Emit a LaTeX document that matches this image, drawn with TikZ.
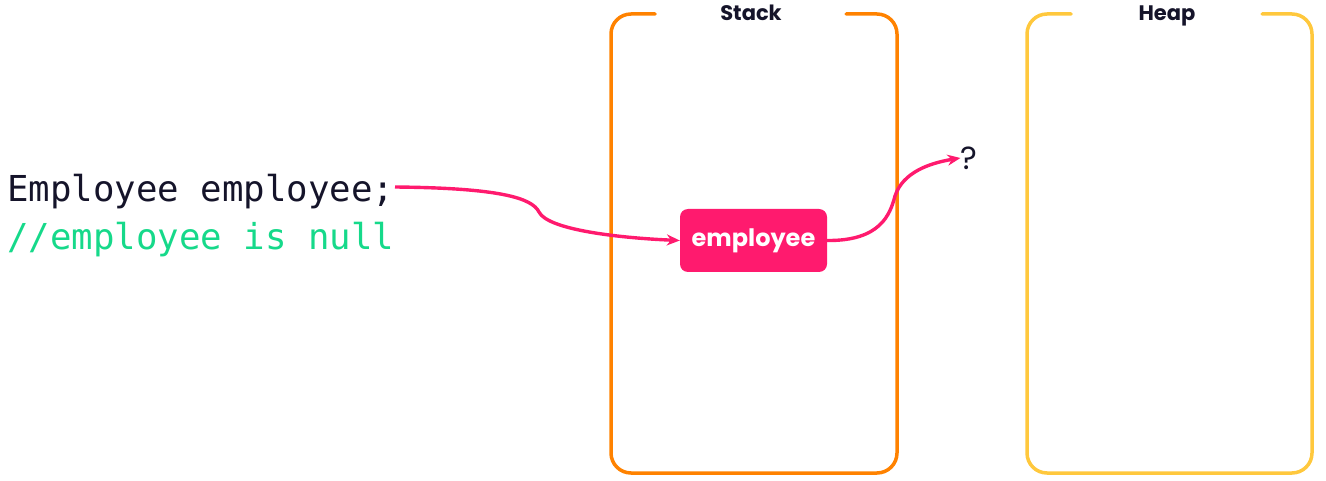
\documentclass[tikz,border=0pt]{standalone}
\usepackage{fontspec}
\setmainfont{Poppins}
\newfontfamily\codefont{DejaVu Sans Mono}
\usetikzlibrary{arrows.meta}
\definecolor{stackc}{HTML}{FF8200}
\definecolor{heapc}{HTML}{FFC83D}
\definecolor{pinkc}{HTML}{FF1A6E}
\definecolor{inkc}{HTML}{15142A}
\definecolor{greenc}{HTML}{16D98A}
\tikzset{
  frame/.style={line width=3.5pt, rounded corners=20pt, line cap=round},
  title/.style={font=\fontsize{21}{24}\selectfont\bfseries, text=inkc, inner sep=0pt, anchor=base},
  code/.style={font=\codefont\fontsize{35.7}{40}\selectfont, anchor=west, inner sep=0pt},
  varbox/.style={fill=pinkc, rounded corners=8pt, minimum width=147pt, minimum height=63pt, text=white, font=\fontsize{24}{27}\selectfont\bfseries, inner sep=0pt},
  link/.style={draw=pinkc, line width=3.4pt, -{Stealth[length=13pt,width=11pt]}}
}
\begin{document}
\begin{tikzpicture}[x=1pt,y=-1pt]
\useasboundingbox (0,0) rectangle (1326,481);
% Stack frame
\draw[frame, stackc] (655,14) -- (611,14) -- (611,473) -- (897,473) -- (897,14) -- (846,14);
\node[title] (stacklbl) at (751,21) {Stack};
% Heap frame
\draw[frame, heapc] (1071,14) -- (1027,14) -- (1027,473) -- (1312,473) -- (1312,14) -- (1262,14);
\node[title] (heaplbl) at (1167,21) {Heap};
% code
\node[code, text=inkc] (line1) at (7,192) {Employee employee;};
\node[code, text=greenc] (line2) at (7,240) {//employee is null};
\coordinate (src) at (395,187);
% variable
\node[varbox] (emp) at (753.5,240.5) {employee};
\node[font=\fontsize{32}{36}\selectfont, text=inkc, inner sep=0pt] (q) at (969,158) {?};
\draw[link] (src) .. controls (500,188) and (532,198) .. (539,212)
  .. controls (548,230) and (620,238) .. (emp.west);
\draw[link] (emp.east) .. controls (880,241) and (890,215) .. (895,196)
  .. controls (903,172) and (930,163) .. (q.west);
\end{tikzpicture}
\end{document}
